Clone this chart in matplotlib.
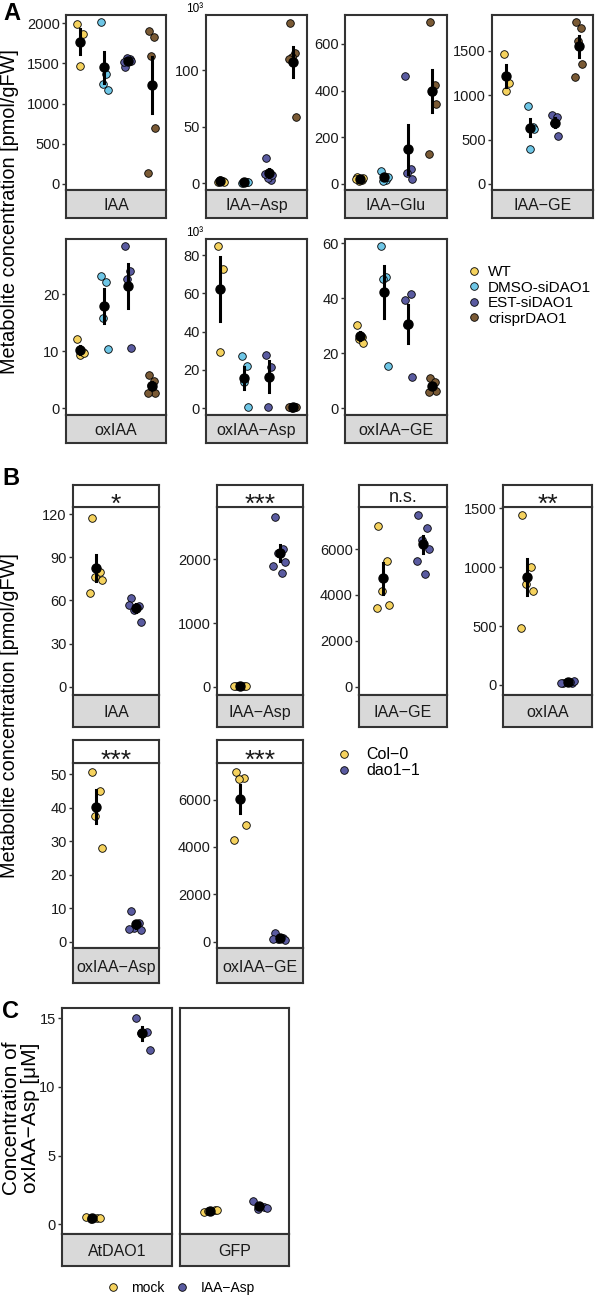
import matplotlib
matplotlib.use('Agg')
import matplotlib.pyplot as plt
from matplotlib.lines import Line2D
import numpy as np

plt.rcParams['font.family'] = ['Liberation Sans', 'DejaVu Sans']

# --- 1. Data ---

# Panel A: four lines, seven metabolites
A_GROUPS = ['WT', 'DMSO-siDAO1', 'EST-siDAO1', 'crisprDAO1']
A_COLORS = ['#F5D25E', '#6EC6E6', '#5A5BA0', '#7A5A35']

a_iaa = [[1985, 1860, 1465], [2016, 1366, 1242, 1168],
         [1455, 1550, 1565, 1530, 1520], [1905, 1822, 1590, 692, 140]]
a_iaa_asp = [[1.5, 2.0, 2.5, 1.0], [0.5, 1.0, 1.5, 0.8],
             [22, 3, 5, 7, 8], [142, 115, 112, 59, 110]]
a_iaa_glu = [[30, 15, 12, 25, 20], [55, 15, 12, 30],
             [463, 65, 45, 20], [694, 424, 396, 343, 129]]
a_iaa_ge = [[1465, 1140, 1050], [879, 646, 395, 620],
            [778, 752, 691, 541], [1830, 1755, 1616, 1350, 1210]]
a_oxiaa = [[12.1, 9.9, 9.3, 9.6], [23.2, 22.2, 15.9, 10.4],
           [28.5, 24.1, 22.7, 10.5], [5.8, 4.7, 4.0, 2.7, 2.6]]
a_oxiaa_asp = [[84.7, 72.7, 29.2], [27.4, 22.2, 13.5, 0.8],
               [27.8, 21.4, 0.5], [0.5, 0.6, 0.4, 0.7, 0.5]]
a_oxiaa_ge = [[30.5, 26.0, 25.2, 23.6], [59.0, 47.6, 47.0, 15.4],
              [39.4, 41.5, 30.5, 11.5], [10.9, 9.5, 8.0, 6.5, 6.0]]

# Panel B: Col-0 vs dao1-1
B_GROUPS = ['Col\u22120', 'dao1\u22121']
B_COLORS = ['#F5D25E', '#5A5BA0']

b_iaa = [[117, 80, 76, 74, 65], [62, 56, 53, 45, 57]]
b_iaa_asp = [[5, 8, 3, 10, 6], [2670, 2170, 2100, 1960, 1900, 1790]]
b_iaa_ge = [[7015, 5470, 4190, 3560, 3414], [7500, 6940, 6400, 6000, 5470, 4930]]
b_oxiaa = [[1438, 1001, 860, 798, 480], [15, 20, 25, 30, 18, 22]]
b_oxiaa_asp = [[50.7, 45.0, 37.5, 27.9], [9.2, 5.5, 4.0, 3.5, 3.8]]
b_oxiaa_ge = [[7170, 6900, 6850, 4920, 4290], [350, 150, 100, 80, 120]]
b_signif = ['*', '***', 'n.s.', '**', '***', '***']

# Panel C: oxIAA-Asp produced by AtDAO1 / GFP
C_GROUPS = ['mock', 'IAA\u2212Asp']
C_COLORS = ['#F5D25E', '#5A5BA0']
c_atdao1 = [[0.55, 0.5, 0.4, 0.45], [15.0, 14.0, 13.9, 12.7]]
c_gfp = [[0.9, 1.05, 1.0, 1.05], [1.7, 1.3, 1.15, 1.2]]

# --- 2. Helpers ---
W, H = 595, 1296
fig = plt.figure(figsize=(W / 100, H / 100), dpi=100)

FRAME = '#333333'
JIT = [-0.12, 0.10, -0.03, 0.15, -0.16, 0.05]


def px_axes(x0, x1, y0, y1):
    return fig.add_axes([x0 / W, 1 - y1 / H, (x1 - x0) / W, (y1 - y0) / H])


def strip(x0, x1, y0, y1, text, face='#D9D9D9', size=11.5):
    ax = px_axes(x0, x1, y0, y1)
    ax.set_facecolor(face)
    ax.set_xticks([])
    ax.set_yticks([])
    for s in ax.spines.values():
        s.set_color(FRAME)
        s.set_linewidth(1.5)
    if text.startswith('*'):
        # asterisks sit high in the font, so push the baseline down
        ax.text(0.5, -0.2, text, ha='center', va='baseline', fontsize=19,
                color='#1A1A1A', transform=ax.transAxes)
    else:
        ax.text(0.5, 0.45, text, ha='center', va='center', fontsize=size,
                color='#1A1A1A', transform=ax.transAxes)
    return ax


def panel(box, groups, colors, ylim, yticks, label, signif=None, mult=False):
    x0, x1, y0, y1, ys = box
    ax = px_axes(x0, x1, y0, y1)
    n = len(groups)
    for i, (vals, col) in enumerate(zip(groups, colors)):
        vals = np.array(vals, dtype=float)
        xs = i + 1 + np.array([JIT[k % len(JIT)] for k in range(len(vals))])
        ax.scatter(xs, vals, s=30, color=col, edgecolor='black',
                   linewidth=0.6, zorder=3)
        m = vals.mean()
        se = vals.std(ddof=1) / np.sqrt(len(vals))
        ax.plot([i + 1, i + 1], [m - se, m + se], color='black', lw=2.2, zorder=4)
        ax.scatter([i + 1], [m], s=42, color='black', zorder=5)
    ax.set_xlim(0.4, n + 0.6)
    ax.set_ylim(*ylim)
    ax.set_yticks(yticks)
    ax.set_xticks([])
    ax.tick_params(axis='y', length=3, width=1, color=FRAME, labelsize=10.5,
                   labelcolor='#1A1A1A', pad=1.5)
    for s in ax.spines.values():
        s.set_color(FRAME)
        s.set_linewidth(1.5)
    strip(x0, x1, y1, ys, label)
    if signif is not None:
        strip(x0, x1, signif[0], y0, signif[1], face='white', size=13)
    if mult:
        ax.text(-0.03, 1.0, '10\u00b3', transform=ax.transAxes, ha='right',
                va='bottom', fontsize=8.5)
    return ax


def dot(c):
    return Line2D([], [], marker='o', ls='', color=c, mec='black', mew=0.6, ms=5.5)


# --- 3. Panel A ---
a_rows = [
    (a_iaa, 'IAA', (-75, 2100), [0, 500, 1000, 1500, 2000], (66, 166, 15, 190, 218), False),
    (a_iaa_asp, 'IAA\u2212Asp', (-6, 149), [0, 50, 100], (206, 307, 15, 190, 218), True),
    (a_iaa_glu, 'IAA\u2212Glu', (-26, 724), [0, 200, 400, 600], (345, 447, 15, 190, 218), False),
    (a_iaa_ge, 'IAA\u2212GE', (-68, 1906), [0, 500, 1000, 1500], (492, 593, 15, 190, 218), False),
    (a_oxiaa, 'oxIAA', (-1.2, 29.7), [0, 10, 20], (66, 166, 239, 415, 443), False),
    (a_oxiaa_asp, 'oxIAA\u2212Asp', (-3.5, 88.4), [0, 20, 40, 60, 80], (206, 307, 239, 415, 443), True),
    (a_oxiaa_ge, 'oxIAA\u2212GE', (-2.4, 61.6), [0, 20, 40, 60], (345, 447, 239, 415, 443), False),
]
for vals, lab, yl, yt, box, mult in a_rows:
    panel(box, vals, A_COLORS, yl, yt, lab, mult=mult)

fig.legend(handles=[dot(c) for c in A_COLORS], labels=A_GROUPS,
           loc='upper left', bbox_to_anchor=(459 / W, 1 - 259 / H),
           frameon=False, fontsize=11, handletextpad=0.3, labelspacing=0.1,
           borderaxespad=0, handlelength=1.2)

fig.text(3 / W, 1 - 13 / H, 'A', fontsize=17, fontweight='bold', va='center')
fig.text(10 / W, 1 - 212 / H, 'Metabolite concentration [pmol/gFW]', rotation=90,
         ha='center', va='center', fontsize=14.3)

# --- 4. Panel B ---
b_rows = [
    (b_iaa, 'IAA', (-5.8, 125), [0, 30, 60, 90, 120], (73, 159, 507, 695, 727), 485),
    (b_iaa_asp, 'IAA\u2212Asp', (-131, 2825), [0, 1000, 2000], (217, 303, 507, 695, 727), 485),
    (b_iaa_ge, 'IAA\u2212GE', (-366, 7840), [0, 2000, 4000, 6000], (359, 447, 507, 695, 727), 485),
    (b_oxiaa, 'oxIAA', (-85, 1510), [0, 500, 1000, 1500], (503, 592, 507, 695, 727), 485),
    (b_oxiaa_asp, 'oxIAA\u2212Asp', (-1.9, 53.3), [0, 10, 20, 30, 40, 50], (73, 159, 763, 948, 983), 740),
    (b_oxiaa_ge, 'oxIAA\u2212GE', (-266, 7543), [0, 2000, 4000, 6000], (217, 303, 763, 948, 983), 740),
]
for (vals, lab, yl, yt, box, stop), sig in zip(b_rows, b_signif):
    panel(box, vals, B_COLORS, yl, yt, lab, signif=(stop, sig))

fig.legend(handles=[dot(c) for c in B_COLORS], labels=B_GROUPS,
           loc='upper left', bbox_to_anchor=(328 / W, 1 - 741 / H),
           frameon=False, fontsize=11.5, handletextpad=0.8, labelspacing=0.05,
           borderaxespad=0, handlelength=1.2)

fig.text(2 / W, 1 - 479 / H, 'B', fontsize=17, fontweight='bold', va='center')
fig.text(10 / W, 1 - 716 / H, 'Metabolite concentration [pmol/gFW]', rotation=90,
         ha='center', va='center', fontsize=14.3)

# --- 5. Panel C ---
panel((62, 172, 1008, 1234, 1266), c_atdao1, C_COLORS, (-0.7, 15.75), [0, 5, 10, 15], 'AtDAO1')
ax_gfp = panel((180, 289, 1008, 1234, 1266), c_gfp, C_COLORS, (-0.7, 15.75), [0, 5, 10, 15], 'GFP')
ax_gfp.set_yticklabels([])
ax_gfp.tick_params(axis='y', length=0)

fig.legend(handles=[dot(c) for c in C_COLORS], labels=C_GROUPS,
           loc='center left', bbox_to_anchor=(99 / W, 1 - 1288 / H),
           frameon=False, fontsize=10, handletextpad=0.7, columnspacing=0.7,
           borderaxespad=0, handlelength=1.2, ncol=2)

fig.text(2 / W, 1 - 1012 / H, 'C', fontsize=17, fontweight='bold', va='center')
fig.text(21 / W, 1 - 1118 / H, 'Concentration of\noxIAA\u2212Asp [\u03bcM]', rotation=90,
         ha='center', va='center', fontsize=15, linespacing=1.05)

fig.savefig('out.png', dpi=100)
